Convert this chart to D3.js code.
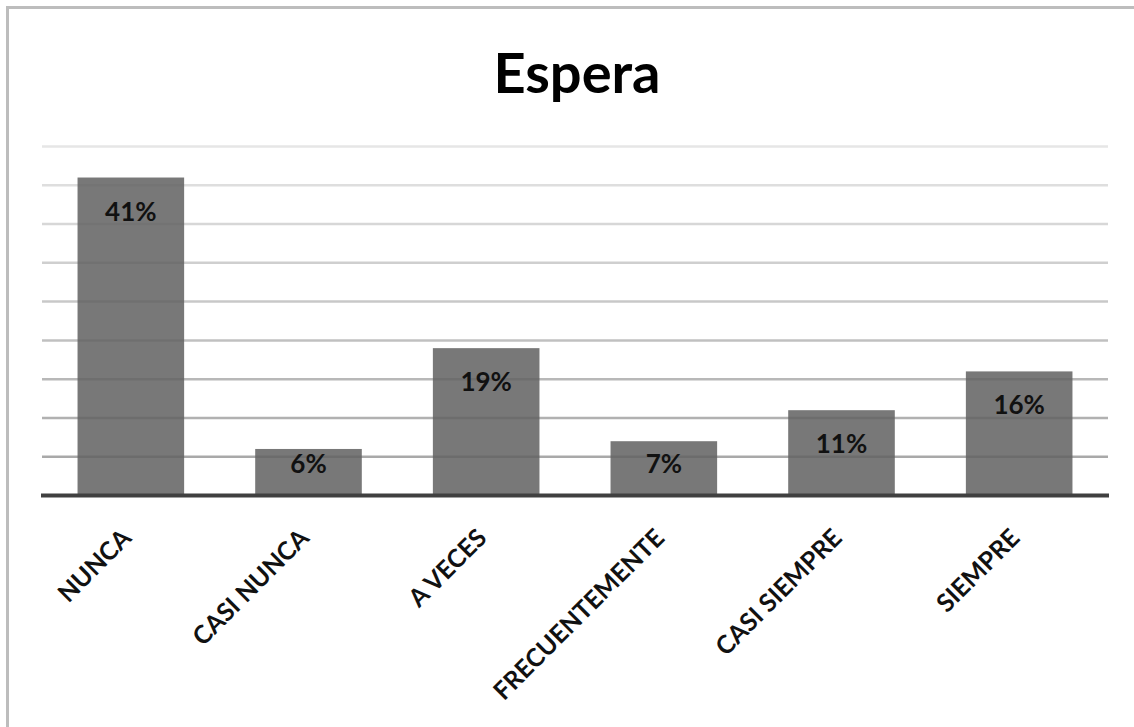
<!DOCTYPE html>
<html>
<head>
<meta charset="utf-8">
<script src="https://cdn.jsdelivr.net/npm/d3@7/dist/d3.min.js"></script>
<style>
  html, body { margin: 0; padding: 0; background: #fff; overflow: hidden; }
  svg { display: block; }
  text { font-family: Lato, "Open Sans", "DejaVu Sans", sans-serif; font-weight: bold; }
</style>
</head>
<body>
<svg id="chart" width="1134" height="727"></svg>
<script>
// Survey answers for "Espera" (percent of respondents)
const title = "Espera";
const categories = ["NUNCA", "CASI NUNCA", "A VECES", "FRECUENTEMENTE", "CASI SIEMPRE", "SIEMPRE"];
const values = [41, 6, 19, 7, 11, 16];
// Horizontal guide lines (value axis has no labels)
const gridValues = [5, 10, 15, 20, 25, 30, 35, 40, 45];
const yMax = 45;

const svg = d3.select("#chart");
const W = 1134, H = 727;
const plot = { left: 42, right: 1108, top: 146.5, bottom: 495.5 };

// Outer chart frame: left and top edges
const frame = svg.append("g")
  .attr("stroke", "#bdbdbd")
  .attr("stroke-width", 3);
frame.append("line").attr("x1", 7.5).attr("x2", 7.5).attr("y1", 6).attr("y2", H);
frame.append("line").attr("x1", 6).attr("x2", W).attr("y1", 7.5).attr("y2", 7.5);

const x = d3.scaleBand()
  .domain(categories)
  .range([plot.left, plot.right])
  .paddingInner(0.4)
  .paddingOuter(0.2);

const y = d3.scaleLinear()
  .domain([0, yMax])
  .range([plot.bottom, plot.top]);

// Gridlines: lighter towards the top
const gridShade = d3.scaleLinear()
  .domain([yMax, 5])
  .range(["#e6e6e6", "#a9a9a9"]);

svg.append("g")
  .selectAll("line")
  .data(gridValues)
  .join("line")
  .attr("x1", plot.left).attr("x2", plot.right)
  .attr("y1", d => y(d)).attr("y2", d => y(d))
  .attr("stroke", d => gridShade(d))
  .attr("stroke-width", 2.5);

// Bars
svg.append("g")
  .selectAll("rect")
  .data(values)
  .join("rect")
  .attr("x", (d, i) => x(categories[i]))
  .attr("width", x.bandwidth())
  .attr("y", d => y(d))
  .attr("height", d => y(0) - y(d))
  .attr("fill", "#626262")
  .attr("fill-opacity", 0.86);

// Category axis line
svg.append("line")
  .attr("x1", plot.left - 1).attr("x2", plot.right + 1)
  .attr("y1", y(0)).attr("y2", y(0))
  .attr("stroke", "#404040")
  .attr("stroke-width", 4);

// Value labels inside the top of each bar
svg.append("g")
  .selectAll("text")
  .data(values)
  .join("text")
  .attr("x", (d, i) => x(categories[i]) + x.bandwidth() / 2)
  .attr("y", d => Math.min(y(d) + 43, y(0) - 23))
  .attr("text-anchor", "middle")
  .attr("font-size", 26)
  .attr("fill", "#111")
  .text(d => d + "%");

// Rotated category labels
svg.append("g")
  .selectAll("text")
  .data(categories)
  .join("text")
  .attr("transform", d => `translate(${x(d) + x.bandwidth() / 2 + 2},${y(0) + 44}) rotate(-45)`)
  .attr("text-anchor", "end")
  .attr("font-size", 25)
  .attr("fill", "#111")
  .text(d => d);

// Title
svg.append("text")
  .attr("x", (plot.left + plot.right) / 2 + 2)
  .attr("y", 93)
  .attr("text-anchor", "middle")
  .attr("font-size", 56)
  .attr("fill", "#000")
  .text(title);
</script>
</body>
</html>
